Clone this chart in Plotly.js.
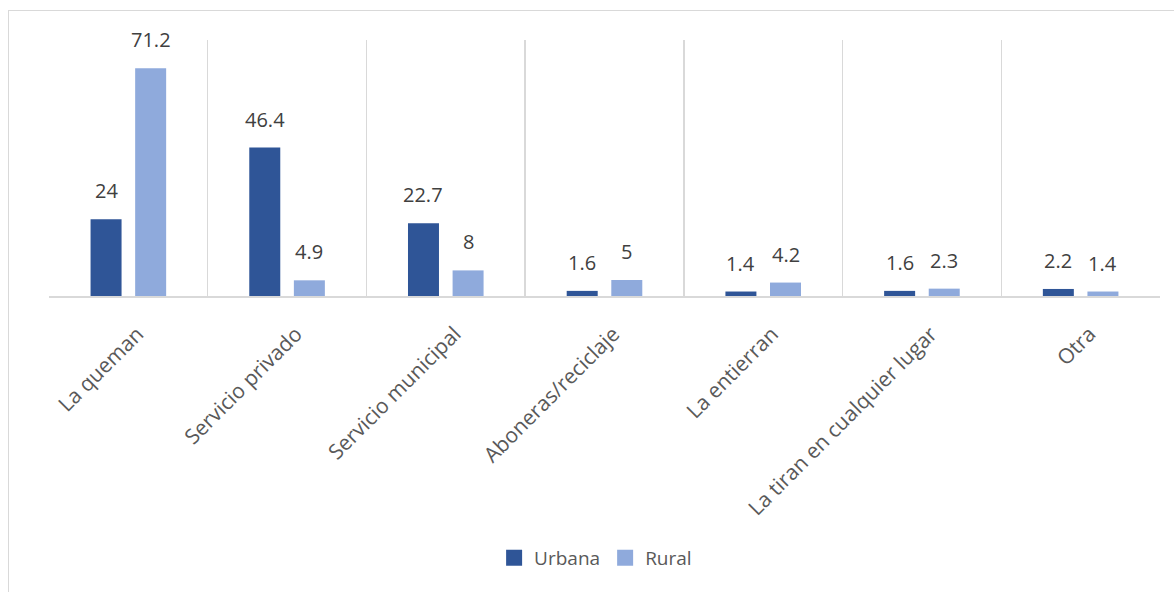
<!DOCTYPE html>
<html>
<head>
<meta charset="utf-8">
<script src="https://cdn.plot.ly/plotly-3.0.1.min.js"></script>
<style>
html,body{margin:0;padding:0;background:#fff;}
#wrap{position:relative;width:1174px;height:592px;overflow:hidden;}
#chart{width:1174px;height:592px;}
#frame{position:absolute;left:8px;top:10px;width:1200px;height:620px;border:1.5px solid #d9d9d9;pointer-events:none;}
</style>
</head>
<body>
<div id="wrap"><div id="chart"></div><div id="frame"></div></div>
<script>
const categories = ["La queman","Servicio privado","Servicio municipal","Aboneras/reciclaje","La entierran","La tiran en cualquier lugar","Otra"];
const urbana = [24, 46.4, 22.7, 1.6, 1.4, 1.6, 2.2];
const rural = [71.2, 4.9, 8, 5, 4.2, 2.3, 1.4];
const seriesNames = ["Urbana","Rural"];
const seriesColors = ['#2F5597','#8FAADC'];

const font = "'Open Sans', 'Noto Sans', sans-serif";
const traces = [
  {type:'bar', name:seriesNames[0], x:categories, y:urbana, marker:{color:seriesColors[0]}, hoverinfo:'skip', showlegend:false},
  {type:'bar', name:seriesNames[1], x:categories, y:rural, marker:{color:seriesColors[1]}, hoverinfo:'skip', showlegend:false},
  {type:'scatter', mode:'markers', name:seriesNames[0], x:[null], y:[null], marker:{symbol:'square', size:16, color:seriesColors[0]}},
  {type:'scatter', mode:'markers', name:seriesNames[1], x:[null], y:[null], marker:{symbol:'square', size:16, color:seriesColors[1]}}
];

const annotations = [];
[urbana, rural].forEach((vals, si) => {
  vals.forEach((v, i) => {
    annotations.push({
      x: categories[i], y: v, xref:'x', yref:'y', text: String(v),
      showarrow:false, xanchor:'center', yanchor:'bottom',
      xshift: si === 0 ? -22.3 : 22.3, yshift: 13,
      font:{family:font, size:20, color:'#404040'}
    });
  });
});

const layout = {
  width:1174, height:592,
  margin:{l:48.5, r:14, t:40, b:295.5},
  paper_bgcolor:'#fff', plot_bgcolor:'#fff',
  barmode:'group', bargap:0.438, bargroupgap:0.305,
  font:{family:font, color:'#595959'},
  xaxis:{
    type:'category', tickson:'boundaries', showgrid:true, gridcolor:'#d9d9d9', gridwidth:1.5,
    showline:true, linecolor:'#d9d9d9', linewidth:1.5, ticks:'', tickangle:-45,
    ticklabelstandoff:16, ticklabelshift:9,
    tickfont:{family:font, size:21, color:'#595959'}, fixedrange:true
  },
  yaxis:{range:[0,80], showgrid:false, zeroline:false, showticklabels:false, ticks:'', fixedrange:true},
  showlegend:true,
  legend:{orientation:'h', x:0.492, xanchor:'center', y:-1.023, yanchor:'middle',
    font:{family:font, size:19, color:'#595959'}, itemwidth:30, traceorder:'normal'},
  annotations: annotations
};
Plotly.newPlot('chart', traces, layout, {displayModeBar:false, staticPlot:true});
</script>
</body>
</html>
